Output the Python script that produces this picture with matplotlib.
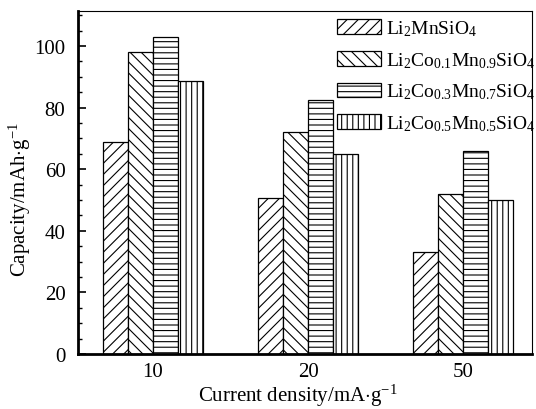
import numpy as np
import matplotlib
matplotlib.use("Agg")
import matplotlib.pyplot as plt

# 数据
densities = ["10", "20", "50"]
series_labels = [
    r"Li$_2$MnSiO$_4$",
    r"Li$_2$Co$_{0.1}$Mn$_{0.9}$SiO$_4$",
    r"Li$_2$Co$_{0.3}$Mn$_{0.7}$SiO$_4$",
    r"Li$_2$Co$_{0.5}$Mn$_{0.5}$SiO$_4$",
]
cap_mn = [69, 50.5, 33]
cap_co01 = [98, 72, 52]
cap_co03 = [103, 82.5, 66]
cap_co05 = [88.5, 65, 50]
hatches = ["///", "\\\\\\", "---", "|||"]

plt.rcParams["font.family"] = ["Liberation Serif", "DejaVu Serif"]
plt.rcParams["mathtext.fontset"] = "custom"
plt.rcParams["mathtext.rm"] = "Liberation Serif"
plt.rcParams["mathtext.it"] = "Liberation Serif:italic"
plt.rcParams["hatch.linewidth"] = 0.8

fig = plt.figure(figsize=(5.36, 4.10), dpi=100)
ax = fig.add_axes([0.1455, 0.134, 0.847, 0.837])

x = np.arange(len(densities))
w = 0.16
all_caps = [cap_mn, cap_co01, cap_co03, cap_co05]
for i, (vals, lab, h) in enumerate(zip(all_caps, series_labels, hatches)):
    ax.bar(x + (i - 2) * w, vals, width=w, align="edge", color="white",
           edgecolor="black", linewidth=0.9, hatch=h, label=lab)

ax.set_xlim(-0.484, 2.445)
ax.set_ylim(0, 111.4)
ax.set_xticks(x)
ax.set_xticklabels(densities)
ax.set_yticks(np.arange(0, 101, 20))
ax.set_yticks(np.arange(0, 111, 5), minor=True)
ax.tick_params(axis="y", which="major", direction="in", length=6, width=1.2,
               labelsize=15, pad=9)
ax.tick_params(axis="y", which="minor", direction="in", length=3, width=1.0)
ax.tick_params(axis="x", length=0, labelsize=15, pad=6)

for s in ["left", "bottom"]:
    ax.spines[s].set_linewidth(2)
for s in ["top", "right"]:
    ax.spines[s].set_linewidth(0.8)

ax.set_ylabel(r"Capacity/mAh$\cdot$g$^{-1}$", fontsize=15)
ax.set_xlabel(r"Current density/mA$\cdot$g$^{-1}$", fontsize=15)
ax.yaxis.set_label_coords(-0.099, 0.452)
ax.xaxis.set_label_coords(0.485, -0.08)

ax.legend(loc="upper left", bbox_to_anchor=(0.561, 0.99), frameon=False, fontsize=14,
          handlelength=2.3, handleheight=0.8, labelspacing=0.62, handletextpad=0.25,
          borderaxespad=0.0, borderpad=0.2)

fig.savefig("out.png", dpi=100)
